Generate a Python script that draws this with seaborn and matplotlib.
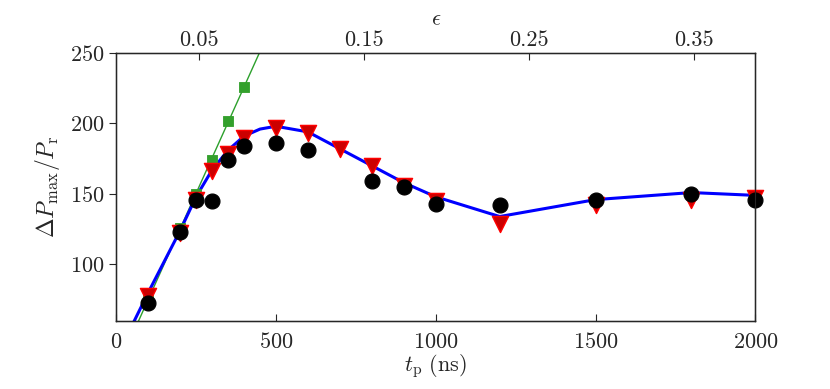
import numpy as np
import pandas as pd
import matplotlib
matplotlib.use("Agg")
import matplotlib.pyplot as plt
import seaborn as sns

# pulse duration (ns)
t_meas = [100, 200, 250, 300, 350, 400, 500, 600, 800, 900, 1000, 1200, 1500, 1800, 2000]
p_meas = [73, 123, 146, 145, 174, 184, 186, 181, 159, 155, 143, 142, 146, 150, 146]

t_sim = [100, 200, 250, 300, 350, 400, 500, 600, 700, 800, 900, 1000, 1200, 1500, 1800, 2000]
p_sim = [78, 122, 146, 166, 178, 190, 197, 193, 182, 170, 156, 145, 129, 142, 146, 147]

t_curve = [50, 100, 200, 250, 300, 350, 400, 450, 500, 600, 700, 800, 900, 1000, 1200, 1500, 1800, 2000]
p_curve = [57, 80, 124, 148, 167, 181, 191, 196, 198, 194, 182, 170, 158, 148, 134, 146, 151, 149]

t_lin = [100, 200, 250, 300, 350, 400]
p_lin = [78, 126, 150, 174, 202, 226]

t_fit = [60, 460]
p_fit = [55, 256]

eps_ticks = [0.05, 0.15, 0.25, 0.35]
eps_max = 0.387

sns.set_style("ticks")
plt.rcParams["font.family"] = ["cmr10"]
plt.rcParams["mathtext.fontset"] = "cm"
plt.rcParams["axes.formatter.use_mathtext"] = True

fig = plt.figure(figsize=(8.3, 3.89), dpi=100)
ax = fig.add_axes([0.140, 0.175, 0.770, 0.689])

sns.lineplot(x=t_fit, y=p_fit, color="#2ca02c", lw=1.0, ax=ax, zorder=1)
sns.lineplot(x=t_curve, y=p_curve, color="#0000ff", lw=2.2, ax=ax, zorder=2)
sns.scatterplot(x=t_lin, y=p_lin, marker="s", s=60, color="#33a02c", edgecolor="#33a02c",
                ax=ax, zorder=3, clip_on=False)
sns.scatterplot(x=t_sim, y=p_sim, marker="v", s=135, color="#cc0000", edgecolor="#ff0000",
                linewidth=1, ax=ax, zorder=4, clip_on=False)
sns.scatterplot(x=t_meas, y=p_meas, marker="o", s=115, color="black", edgecolor="black",
                ax=ax, zorder=5, clip_on=False)

ax.set_xlim(0, 2000)
ax.set_ylim(60, 250)
ax.set_xticks([0, 500, 1000, 1500, 2000])
ax.set_yticks([100, 150, 200, 250])
ax.tick_params(axis="x", direction="in", length=5, labelsize=16, pad=8)
ax.tick_params(axis="y", direction="out", length=5, labelsize=16, right=False)
ax.set_xlabel(r"$t_{\rm p}\ {\rm (ns)}$", fontsize=16, labelpad=0)
ax.set_ylabel(r"$\Delta P_{\max}/P_{\rm r}$", fontsize=17, labelpad=6)
for sp in ax.spines.values():
    sp.set_linewidth(1.0)
    sp.set_color("black")

top = ax.twiny()
top.set_xlim(0, eps_max)
top.set_xticks(eps_ticks)
top.set_xticklabels(["0.05", "0.15", "0.25", "0.35"])
top.tick_params(axis="x", direction="in", length=5, labelsize=16, pad=2)
top.set_xlabel(r"$\epsilon$", fontsize=16, labelpad=4)

fig.savefig("out.png", dpi=100)
